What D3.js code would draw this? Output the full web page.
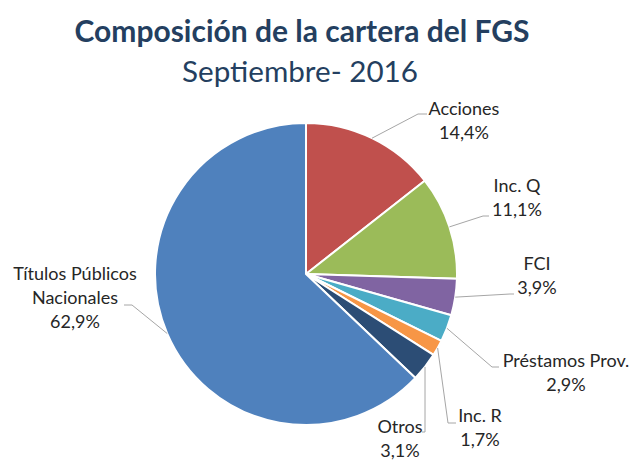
<!DOCTYPE html>
<html>
<head>
<meta charset="utf-8">
<script src="https://cdn.jsdelivr.net/npm/d3@7"></script>
<style>
  body { margin: 0; background: #fff; }
  text { font-family: Lato, "Noto Sans", sans-serif; }
</style>
</head>
<body>
<div id="chart"></div>
<script>
// chart data
var categories = ["Acciones", "Inc. Q", "FCI", "Préstamos Prov.", "Inc. R", "Otros", "Títulos Públicos Nacionales"];
var shares = [14.4, 11.1, 3.9, 2.9, 1.7, 3.1, 62.9];
var shareLabels = ["14,4%", "11,1%", "3,9%", "2,9%", "1,7%", "3,1%", "62,9%"];
var colors = ["#C0504D", "#9BBB59", "#8064A2", "#4BACC6", "#F79646", "#2C4D75", "#4F81BD"];

// label layout: text lines, text centre x, first baseline, leader elbow, leader end
var labelLines = [
  ["Acciones"], ["Inc. Q"], ["FCI"], ["Préstamos Prov."], ["Inc. R"], ["Otros"], ["Títulos Públicos", "Nacionales"]
];
var labelPos = [
  {x: 464, y: 115, elbow: [418, 114], end: [427, 114]},
  {x: 517, y: 192, elbow: [483, 216], end: [489, 216]},
  {x: 537, y: 270, elbow: [510, 294], end: [514, 294]},
  {x: 566, y: 367, elbow: [492, 367], end: [499, 367]},
  {x: 480, y: 422, elbow: [448, 423], end: [456, 423]},
  {x: 400, y: 433, elbow: [425, 432], end: [422, 432]},
  {x: 75,  y: 280, elbow: [132, 305], end: [124, 305]}
];

var svgWidth = 634;
var svgHeight = 460;
var cx = 306, cy = 274, radius = 151;

var svg = d3.select("#chart")
  .append("svg")
  .attr("width", svgWidth)
  .attr("height", svgHeight);

// titles, sized to match the reference widths
function fitText(sel, targetWidth) {
  var size = parseFloat(sel.attr("font-size"));
  var w = sel.node().getComputedTextLength();
  sel.attr("font-size", size * targetWidth / w);
}

var title = svg.append("text")
  .attr("x", 302)
  .attr("y", 42)
  .attr("text-anchor", "middle")
  .attr("font-size", 28)
  .attr("font-weight", "bold")
  .attr("fill", "#243F60")
  .text("Composición de la cartera del FGS");
fitText(title, 455);

var subtitle = svg.append("text")
  .attr("x", 300)
  .attr("y", 82)
  .attr("text-anchor", "middle")
  .attr("font-size", 28)
  .attr("fill", "#243F60")
  .text("Septiembre- 2016");
fitText(subtitle, 236);

var data = categories.map(function(c, i) {
  return {name: c, value: shares[i], label: shareLabels[i], color: colors[i], lines: labelLines[i], pos: labelPos[i]};
});

var pie = d3.pie()
  .sort(null)
  .value(d => d.value);

var arc = d3.arc()
  .innerRadius(0)
  .outerRadius(radius);

var arcs = pie(data);

var pieGroup = svg.append("g")
  .attr("transform", `translate(${cx}, ${cy})`);

pieGroup.selectAll("path")
  .data(arcs)
  .enter()
  .append("path")
  .attr("d", arc)
  .attr("fill", d => d.data.color)
  .attr("stroke", "#fff")
  .attr("stroke-width", 2)
  .attr("stroke-linejoin", "round");

// leader lines start on the outer edge at the slice's mid angle
svg.selectAll("polyline.leader")
  .data(arcs)
  .enter()
  .append("polyline")
  .classed("leader", true)
  .attr("points", function(d) {
    var a = (d.startAngle + d.endAngle) / 2;
    var sx = cx + radius * Math.sin(a);
    var sy = cy - radius * Math.cos(a);
    var p = d.data.pos;
    return [[sx, sy], p.elbow, p.end].map(q => q.join(",")).join(" ");
  })
  .attr("fill", "none")
  .attr("stroke", "#A6A6A6")
  .attr("stroke-width", 1);

var labels = svg.selectAll("text.slice-label")
  .data(arcs)
  .enter()
  .append("text")
  .classed("slice-label", true)
  .attr("text-anchor", "middle")
  .attr("font-size", 18)
  .attr("fill", "#262626")
  .attr("x", d => d.data.pos.x)
  .attr("y", d => d.data.pos.y);

labels.each(function(d) {
  var t = d3.select(this);
  var lines = d.data.lines.concat([d.data.label]);
  lines.forEach(function(line, i) {
    t.append("tspan")
      .attr("x", d.data.pos.x)
      .attr("dy", i === 0 ? 0 : 24)
      .text(line);
  });
});
</script>
</body>
</html>
